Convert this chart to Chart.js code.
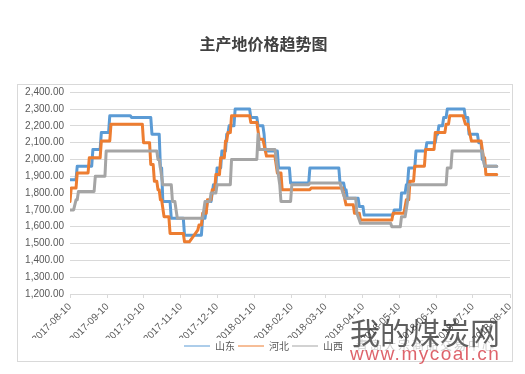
<!DOCTYPE html>
<html>
<head>
<meta charset="utf-8">
<script src="https://cdn.jsdelivr.net/npm/chart.js@4.4.0/dist/chart.umd.min.js"></script>
<style>
  html, body { margin: 0; padding: 0; background: #fff; }
  #wrap { position: relative; width: 525px; height: 374px; }
  #frame { position: absolute; left: 17px; top: 84px; width: 496px; height: 278px; box-sizing: border-box; border: 1px solid #d9d9d9; }
  canvas { position: absolute; left: 0; top: 0; }
  .mark { position: absolute; white-space: nowrap; pointer-events: none; }
  #wmName { left: 350px; top: 309px; font: 30px 'Noto Sans CJK SC', sans-serif; color: rgba(55, 55, 55, 0.8); }
  #wmSub { left: 356px; top: 336px; font: 12px 'Noto Sans CJK SC', sans-serif; letter-spacing: 2px; color: rgba(120, 120, 120, 0.35); }
  #wmUrl { left: 350px; top: 343px; font: 19px 'Liberation Sans', Arial, sans-serif; letter-spacing: 1.5px; color: rgba(214, 60, 70, 0.8); }
</style>
</head>
<body>
<div id="wrap">
  <div id="frame"></div>
  <canvas id="priceChart" width="525" height="374"></canvas>
  <div class="mark" id="wmName">我的煤炭网</div>
  <div class="mark" id="wmSub">青岛大宗商品交易中心</div>
  <div class="mark" id="wmUrl">www.mycoal.cn</div>
</div>
<script>
// x values are days since 2017-08-10
const startDate = '2017-08-10';
const tickLabels = ['2017-08-10', '2017-09-10', '2017-10-10', '2017-11-10', '2017-12-10', '2018-01-10', '2018-02-10',
                    '2018-03-10', '2018-04-10', '2018-05-10', '2018-06-10', '2018-07-10', '2018-08-10'];
const seriesNames = ['山东', '河北', '山西'];

// 山东
const sdDays = [0, 5, 6, 18, 19, 25, 26, 32, 33, 50, 51, 67, 68, 74, 75, 76, 77, 83, 84, 94, 95, 109, 110, 112, 113, 114,
                117, 118, 119, 121, 122, 125, 126, 129, 130, 131, 132, 136, 137, 149, 150, 155, 156, 160, 161, 162, 172, 173,
                182, 183, 198, 199, 223, 224, 227, 228, 229, 230, 239, 240, 243, 244, 268, 269, 274, 275, 278, 279, 280, 281,
                286, 287, 295, 296, 303, 304, 305, 306, 309, 310, 312, 313, 327, 328, 330, 331, 338, 339, 341, 342, 343, 344, 354];
const sdPrices = [1880, 1880, 1960, 1960, 2060, 2060, 2160, 2160, 2260, 2260, 2250, 2250, 2150, 2150, 1950, 1950, 1750, 1750,
                  1650, 1650, 1550, 1550, 1650, 1650, 1700, 1750, 1750, 1800, 1850, 1850, 1950, 1950, 2050, 2050, 2150, 2150,
                  2200, 2200, 2300, 2300, 2250, 2250, 2200, 2200, 2150, 2050, 2050, 1950, 1950, 1860, 1860, 1950, 1950, 1860,
                  1860, 1820, 1820, 1770, 1770, 1720, 1720, 1670, 1670, 1700, 1700, 1800, 1800, 1850, 1850, 1950, 1950, 2050,
                  2050, 2100, 2100, 2150, 2150, 2200, 2200, 2250, 2250, 2300, 2300, 2250, 2250, 2150, 2150, 2100, 2100, 2000,
                  2000, 1960, 1960];

// 河北
const hbDays = [0, 1, 5, 6, 15, 16, 25, 26, 33, 34, 60, 61, 66, 67, 69, 70, 72, 73, 74, 75, 76, 77, 78, 82, 83, 94, 95, 99,
                103, 106, 107, 109, 110, 113, 114, 117, 118, 120, 121, 124, 125, 128, 129, 130, 131, 133, 134, 149, 150, 155,
                157, 160, 163, 170, 172, 175, 176, 199, 200, 226, 229, 235, 236, 240, 241, 267, 268, 277, 279, 281, 282, 285,
                286, 294, 295, 302, 303, 311, 312, 314, 315, 326, 328, 330, 333, 341, 343, 344, 345, 354];
const hbPrices = [1750, 1830, 1830, 1920, 1920, 2010, 2010, 2110, 2110, 2210, 2210, 2100, 2100, 1970, 1970, 1870, 1870, 1820,
                  1820, 1760, 1760, 1710, 1660, 1660, 1560, 1560, 1510, 1510, 1550, 1580, 1610, 1610, 1680, 1680, 1760, 1760,
                  1820, 1820, 1910, 1910, 2010, 2010, 2110, 2110, 2160, 2160, 2260, 2260, 2220, 2220, 2120, 2120, 2020, 2020,
                  1920, 1920, 1820, 1820, 1830, 1830, 1730, 1730, 1680, 1680, 1640, 1640, 1680, 1680, 1760, 1760, 1870, 1870,
                  1960, 1960, 2060, 2060, 2160, 2160, 2210, 2210, 2260, 2260, 2210, 2210, 2110, 2110, 2010, 2010, 1910, 1910];

// 山西
const sxDays = [0, 3, 5, 6, 7, 20, 21, 29, 30, 72, 73, 74, 75, 77, 84, 85, 87, 88, 89, 110, 111, 112, 116, 117, 121, 122, 133,
                134, 155, 156, 157, 170, 172, 174, 175, 183, 184, 198, 199, 224, 226, 228, 237, 238, 241, 266, 267, 274, 275,
                278, 280, 281, 312, 313, 316, 317, 342, 343, 344, 354];
const sxPrices = [1700, 1700, 1760, 1760, 1810, 1810, 1900, 1900, 2050, 2050, 2000, 2000, 1950, 1850, 1850, 1750, 1750, 1700,
                  1650, 1650, 1700, 1750, 1750, 1800, 1800, 1850, 1850, 2000, 2000, 2150, 2060, 2060, 1950, 1850, 1750, 1750,
                  1850, 1850, 1860, 1860, 1810, 1770, 1770, 1680, 1620, 1620, 1600, 1600, 1660, 1660, 1750, 1850, 1850, 1950,
                  1950, 2050, 2050, 2000, 1960, 1960];

const dayMs = 24 * 3600 * 1000;
const tickDays = tickLabels.map(d => Math.round((Date.parse(d) - Date.parse(startDate)) / dayMs));

function toPoints(days, prices) {
    return days.map((d, i) => ({ x: d, y: prices[i] }));
}

Chart.defaults.font.family = "'Liberation Sans', 'Noto Sans CJK SC', sans-serif";
Chart.defaults.color = '#595959';

const ctx = document.getElementById('priceChart').getContext('2d');

new Chart(ctx, {
    type: 'line',
    data: {
        datasets: [
            { label: seriesNames[0], data: toPoints(sdDays, sdPrices), borderColor: '#5B9BD5', backgroundColor: '#5B9BD5', order: 3 },
            { label: seriesNames[1], data: toPoints(hbDays, hbPrices), borderColor: '#ED7D31', backgroundColor: '#ED7D31', order: 2 },
            { label: seriesNames[2], data: toPoints(sxDays, sxPrices), borderColor: '#A5A5A5', backgroundColor: '#A5A5A5', order: 1 }
        ]
    },
    options: {
        responsive: false,
        animation: false,
        layout: { padding: { left: 17, right: 15, top: 0, bottom: 13 } },
        elements: {
            point: { radius: 0 },
            line: { borderWidth: 3, tension: 0, borderJoinStyle: 'round', borderCapStyle: 'round' }
        },
        scales: {
            x: {
                type: 'linear',
                min: 0,
                max: 365,
                afterBuildTicks: axis => { axis.ticks = tickDays.map(v => ({ value: v })); },
                afterFit: axis => { axis.height = 44; },
                ticks: {
                    autoSkip: false,
                    minRotation: 45,
                    maxRotation: 45,
                    padding: 3,
                    font: { size: 10 },
                    callback: (value, index) => tickLabels[index]
                },
                grid: { drawOnChartArea: false, drawTicks: true, tickLength: 4, color: '#d9d9d9' },
                border: { color: '#d9d9d9' }
            },
            y: {
                min: 1200,
                max: 2400,
                afterFit: axis => { axis.width = 53; },
                ticks: {
                    stepSize: 100,
                    padding: 6,
                    font: { size: 10 },
                    callback: value => value.toLocaleString('en-US', { minimumFractionDigits: 2, maximumFractionDigits: 2 })
                },
                grid: { color: '#d9d9d9', drawTicks: false },
                border: { display: false }
            }
        },
        plugins: {
            title: {
                display: true,
                text: '主产地价格趋势图',
                color: '#404040',
                font: { family: "'Noto Sans CJK SC', sans-serif", size: 16, weight: 'bold' },
                padding: { top: 34, bottom: 39 }
            },
            legend: {
                position: 'bottom',
                labels: {
                    usePointStyle: true,
                    pointStyle: 'line',
                    pointStyleWidth: 26,
                    padding: 3,
                    font: { size: 10, family: "'Noto Sans CJK SC', sans-serif" },
                    sort: (a, b) => a.datasetIndex - b.datasetIndex
                }
            },
            tooltip: { enabled: false }
        }
    }
});
</script>
</body>
</html>
